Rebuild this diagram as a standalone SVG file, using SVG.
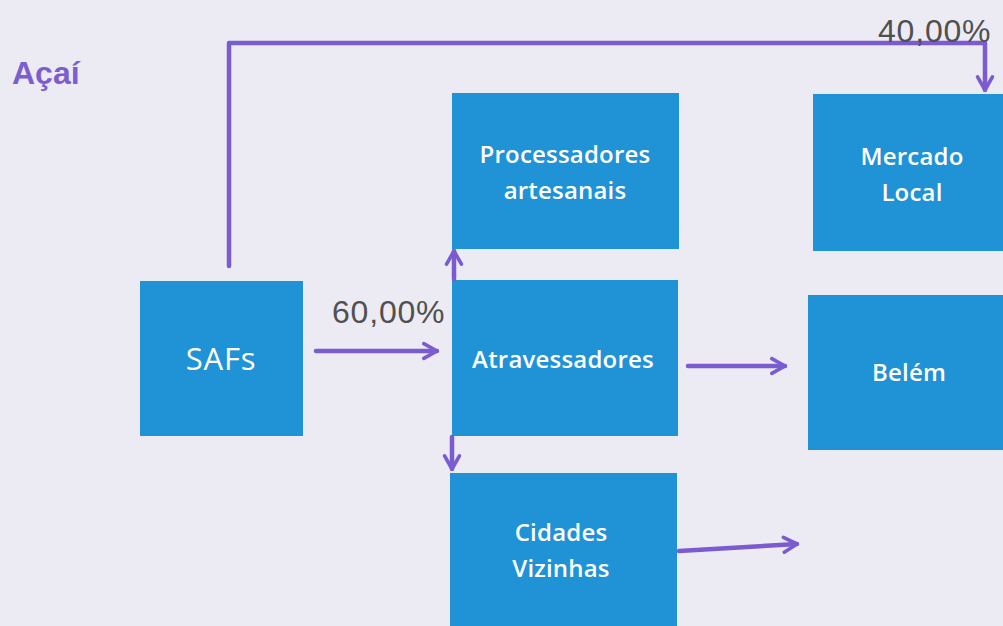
<svg xmlns="http://www.w3.org/2000/svg" width="1003" height="626" viewBox="0 0 1003 626">
  <defs>
    <style>
      .box { fill: #2092d6; }
      .lbl { fill: #ffffff; font-family: "Open Sans", "Noto Sans", sans-serif; font-size: 24px; font-weight: 600; letter-spacing: 0.2px; text-anchor: middle; }
      .pct { fill: #505050; font-family: "Liberation Sans", Arial, sans-serif; font-size: 32px; letter-spacing: 0.8px; }
      .flow { fill: none; stroke: #7a5cd0; stroke-width: 4.5; stroke-linecap: round; stroke-linejoin: round; }
    </style>
    <marker id="head" viewBox="0 0 12 12" refX="10" refY="6" markerWidth="4.4" markerHeight="4.4" orient="auto" markerUnits="strokeWidth">
      <path d="M2,1.5 L10,6 L2,10.5" fill="none" stroke="#7a5cd0" stroke-width="2.2" stroke-linecap="round" stroke-linejoin="round"/>
    </marker>
  </defs>

  <rect x="0" y="0" width="1003" height="626" fill="#ecebf3"/>

  <text x="12" y="84" fill="#7b5fcf" font-family="Liberation Sans, Arial, sans-serif" font-size="32" font-weight="bold">Açaí</text>

  <g id="node-safs">
    <rect class="box" x="140" y="281" width="163" height="155"/>
    <text class="lbl" x="221" y="370" style="font-size:31px;font-weight:400;letter-spacing:0.8px">SAFs</text>
  </g>

  <g id="node-processadores">
    <rect class="box" x="452" y="93" width="227" height="156"/>
    <text class="lbl" x="565" y="163">Processadores</text>
    <text class="lbl" x="565" y="199">artesanais</text>
  </g>

  <g id="node-atravessadores">
    <rect class="box" x="452" y="280" width="226" height="156"/>
    <text class="lbl" x="563" y="368">Atravessadores</text>
  </g>

  <g id="node-cidades">
    <rect class="box" x="450" y="473" width="227" height="160"/>
    <text class="lbl" x="561" y="541">Cidades</text>
    <text class="lbl" x="561" y="577">Vizinhas</text>
  </g>

  <g id="node-mercado">
    <rect class="box" x="813" y="94" width="200" height="157"/>
    <text class="lbl" x="912" y="165">Mercado</text>
    <text class="lbl" x="912" y="201">Local</text>
  </g>

  <g id="node-belem">
    <rect class="box" x="808" y="295" width="205" height="155"/>
    <text class="lbl" x="909" y="381">Belém</text>
  </g>

  <g id="connectors">
    <path class="flow" d="M229,266 L229,43 L985,43 L985,90" marker-end="url(#head)"/>
    <path class="flow" d="M316,351 L437,351" marker-end="url(#head)"/>
    <path class="flow" d="M454,279 L454,251" marker-end="url(#head)"/>
    <path class="flow" d="M452,437 L452,469" marker-end="url(#head)"/>
    <path class="flow" d="M688,366 L785,366" marker-end="url(#head)"/>
    <path class="flow" d="M679,551 L797,544" marker-end="url(#head)"/>
    <text class="pct" x="332" y="323">60,00%</text>
    <text class="pct" x="878" y="42">40,00%</text>
  </g>
</svg>
